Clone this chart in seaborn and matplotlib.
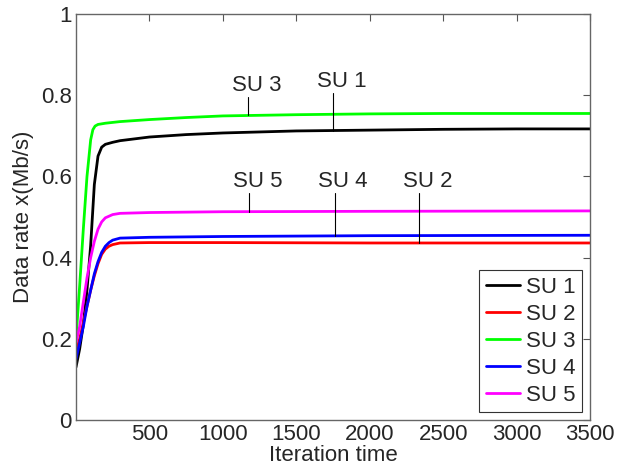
import numpy as np
import pandas as pd
import matplotlib
matplotlib.use("Agg")
import matplotlib.pyplot as plt
import seaborn as sns

# ---- data ----
it_su1 = [0, 25, 50, 75, 100, 125, 150, 175, 200, 250, 300, 500, 750, 1000, 1500, 2000, 2500, 3000, 3500]
su1 = [0.13, 0.175, 0.235, 0.32, 0.43, 0.58, 0.65, 0.672, 0.679, 0.684, 0.688, 0.697, 0.703, 0.707, 0.712, 0.714, 0.716, 0.717, 0.717]

it_su2 = [0, 25, 50, 75, 100, 125, 150, 175, 200, 225, 250, 300, 500, 1000, 2000, 3500]
su2 = [0.17, 0.20, 0.24, 0.28, 0.32, 0.355, 0.385, 0.408, 0.421, 0.428, 0.432, 0.436, 0.437, 0.437, 0.436, 0.436]

it_su3 = [0, 25, 50, 75, 100, 115, 130, 150, 200, 300, 500, 750, 1000, 1500, 2000, 2500, 3000, 3500]
su3 = [0.20, 0.33, 0.47, 0.60, 0.69, 0.715, 0.724, 0.728, 0.731, 0.735, 0.740, 0.745, 0.749, 0.752, 0.754, 0.755, 0.755, 0.755]

it_su4 = [0, 25, 50, 75, 100, 125, 150, 175, 200, 225, 250, 300, 500, 1000, 2000, 3500]
su4 = [0.15, 0.19, 0.23, 0.28, 0.32, 0.36, 0.39, 0.413, 0.428, 0.437, 0.443, 0.448, 0.450, 0.452, 0.454, 0.455]

it_su5 = [0, 25, 50, 75, 100, 125, 150, 175, 200, 250, 300, 500, 1000, 2000, 3500]
su5 = [0.19, 0.23, 0.29, 0.35, 0.40, 0.44, 0.47, 0.488, 0.498, 0.506, 0.509, 0.511, 0.513, 0.514, 0.515]

series_names = ["SU 1", "SU 2", "SU 3", "SU 4", "SU 5"]
series_colors = ["#000000", "#ff0000", "#00ff00", "#0000ff", "#ff00ff"]

x_ticks = [500, 1000, 1500, 2000, 2500, 3000, 3500]
y_ticks = [0, 0.2, 0.4, 0.6, 0.8, 1]
y_tick_labels = ["0", "0.2", "0.4", "0.6", "0.8", "1"]

# annotations: label, x of leader line, curve value, text-bottom value
ann_labels = ["SU 3", "SU 1", "SU 5", "SU 4", "SU 2"]
ann_x = [1169, 1748, 1180, 1761, 2338]
ann_curve = [0.7505, 0.713, 0.513, 0.453, 0.436]
ann_top = [0.796, 0.806, 0.56, 0.56, 0.56]

# ---- figure ----
sns.set_style("white")
plt.rcParams["font.family"] = ["Liberation Sans", "DejaVu Sans"]

fig = plt.figure(figsize=(6.3, 4.72), dpi=100)
ax = fig.add_axes([0.1206, 0.1102, 0.8159, 0.8601])

frames = []
for name, xs, ys in zip(series_names,
                        [it_su1, it_su2, it_su3, it_su4, it_su5],
                        [su1, su2, su3, su4, su5]):
    frames.append(pd.DataFrame({"it": xs, "val": ys, "series": name}))
df = pd.concat(frames, ignore_index=True)

sns.lineplot(data=df, x="it", y="val", hue="series", hue_order=series_names,
             palette=series_colors, estimator=None, sort=False, linewidth=2.0,
             ax=ax)

ax.set_xlim(0, 3500)
ax.set_ylim(0, 1)
ax.set_xticks(x_ticks)
ax.set_xticklabels([str(v) for v in x_ticks])
ax.set_yticks(y_ticks)
ax.set_yticklabels(y_tick_labels)
ax.tick_params(direction="in", length=5, width=0.8, color="#555555",
               labelsize=16, top=True, right=True, pad=3)
for s in ax.spines.values():
    s.set_color("#666666")
    s.set_linewidth(1.0)
ax.set_xlabel("Iteration time", fontsize=16, labelpad=0)
ax.set_ylabel("Data rate x(Mb/s)", fontsize=16, labelpad=5)

# annotations
for lab, xv, yc, yt in zip(ann_labels, ann_x, ann_curve, ann_top):
    ax.plot([xv, xv], [yc, yt], color="black", linewidth=0.8)
    ax.text(xv - 110, yt + 0.002, lab, fontsize=16, ha="left", va="bottom")

leg = ax.legend(loc="lower right", fontsize=16, frameon=True, fancybox=False,
                framealpha=1, edgecolor="#333333", handlelength=1.55,
                handletextpad=0.25, labelspacing=0.27, borderpad=0.3,
                borderaxespad=0.35, title=None)
leg.get_frame().set_linewidth(0.8)

fig.savefig("out.png", dpi=100)
